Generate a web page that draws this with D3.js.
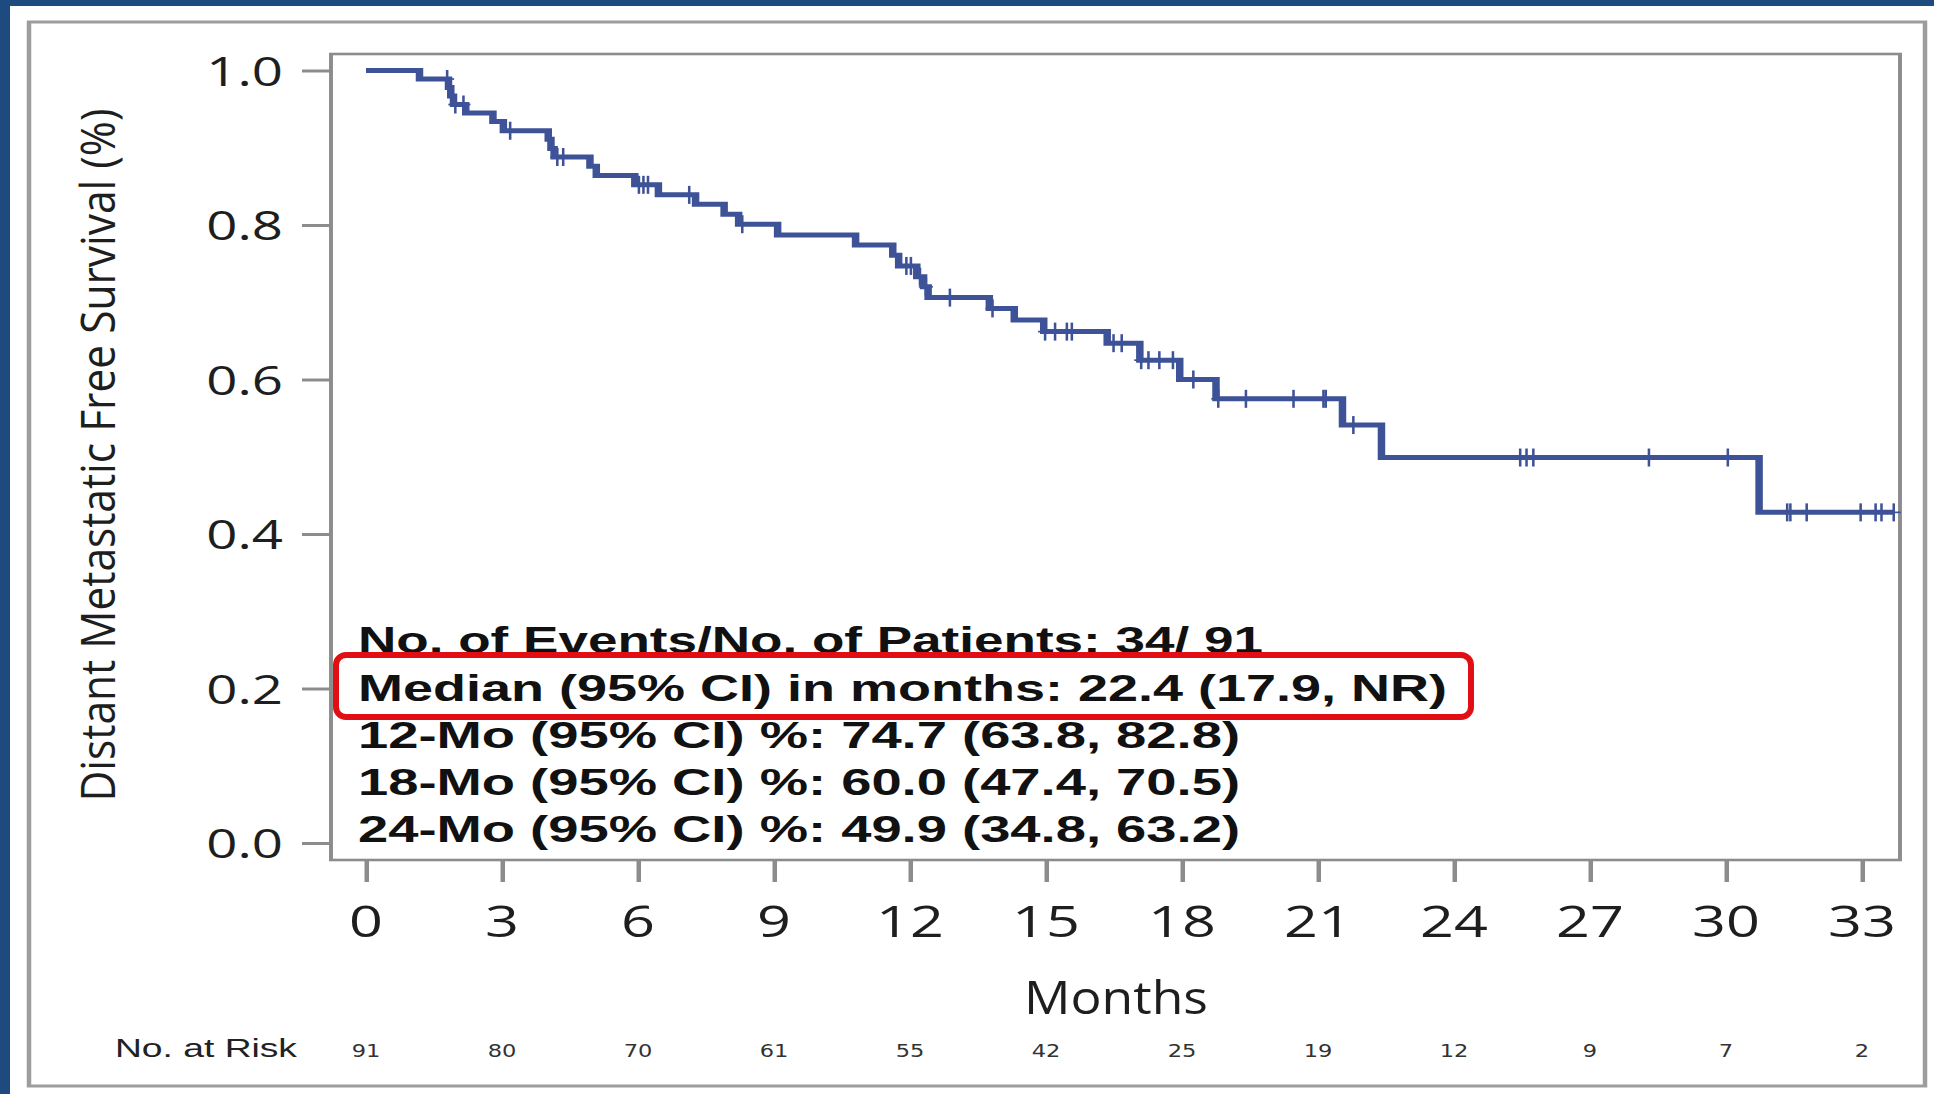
<!DOCTYPE html>
<html>
<head>
<meta charset="utf-8">
<script src="https://cdn.jsdelivr.net/npm/d3@7"></script>
<style>
  html, body { margin: 0; padding: 0; background: #fff; }
  svg { display: block; }
</style>
</head>
<body>
<svg id="chart" width="1934" height="1094"></svg>
<script>
// Kaplan–Meier estimate: distant metastasis-free survival
const eventMonths = [1.18, 1.82, 1.87, 1.93, 2.20, 2.80, 3.03, 4.02, 4.08, 4.15, 4.94, 5.08,
  5.93, 6.45, 7.27, 7.90, 8.22, 9.08, 10.80, 11.62, 11.75, 12.15, 12.30, 12.40, 13.75,
  14.30, 14.95, 16.35, 17.07, 17.95, 18.75, 21.54, 22.40, 30.73];
const survivalAfter = [0.989, 0.978, 0.967, 0.956, 0.945, 0.934, 0.922, 0.911, 0.899, 0.888,
  0.876, 0.864, 0.852, 0.839, 0.827, 0.814, 0.801, 0.787, 0.774, 0.761, 0.747, 0.733, 0.720,
  0.706, 0.692, 0.677, 0.662, 0.647, 0.625, 0.600, 0.575, 0.541, 0.499, 0.428];
const censorMonths = [1.79, 1.97, 2.15, 3.18, 4.22, 4.35, 6.02, 6.12, 6.22, 7.13, 8.30,
  11.92, 12.02, 12.22, 12.35, 12.88, 13.82, 14.98, 15.20, 15.46, 15.57, 16.49, 16.67, 17.10,
  17.26, 17.50, 17.80, 18.25, 18.80, 19.41, 20.46, 21.12, 21.17, 21.78, 25.46, 25.60, 25.75,
  28.30, 30.04, 31.35, 31.42, 31.78, 32.97, 33.30, 33.43, 33.70];
const lastFollowUp = 33.70;

const xTicks = [0, 3, 6, 9, 12, 15, 18, 21, 24, 27, 30, 33];
const yTicks = [0, 0.2, 0.4, 0.6, 0.8, 1.0];
const atRisk = [91, 80, 70, 61, 55, 42, 25, 19, 12, 9, 7, 2];

const statLines = [
  "No. of Events/No. of Patients: 34/ 91",
  "Median (95% CI) in months: 22.4 (17.9, NR)",
  "12-Mo (95% CI) %: 74.7 (63.8, 82.8)",
  "18-Mo (95% CI) %: 60.0 (47.4, 70.5)",
  "24-Mo (95% CI) %: 49.9 (34.8, 63.2)"
];

// ---- layout ----
const SX = 1.5;                 // horizontal stretch of the line-art layer
const curveColor = "#3e5298";
const frameColor = "#8c8c8c";

const svg = d3.select("#chart");
svg.append("rect").attr("width", 1934).attr("height", 1094).attr("fill", "#1d4b80");
svg.append("rect").attr("x", 10).attr("y", 6).attr("width", 1924).attr("height", 1088).attr("fill", "#ffffff");

const x = d3.scaleLinear().domain([0, 33]).range([366 / SX, 1862 / SX]);
const y = d3.scaleLinear().domain([0, 1]).range([843, 70.5]);
const X = v => x(v) * SX;       // screen x for the unstretched text layer

const g = svg.append("g").attr("transform", `scale(${SX},1)`);

// outer panel frame
g.append("rect")
  .attr("x", 29 / SX).attr("y", 22)
  .attr("width", (1925 - 29) / SX).attr("height", 1086 - 22)
  .attr("fill", "none").attr("stroke", "#9d9d9d").attr("stroke-width", 3);

// plot frame
g.append("rect")
  .attr("x", 331 / SX).attr("y", 54)
  .attr("width", (1900 - 331) / SX).attr("height", 860 - 54)
  .attr("fill", "none").attr("stroke", frameColor).attr("stroke-width", 2.6);

// axes (tick marks only; labels drawn in the text layer)
g.append("g")
  .attr("transform", "translate(0,860)")
  .call(d3.axisBottom(x).tickValues(xTicks).tickSize(22).tickSizeOuter(0).tickFormat(""))
  .call(a => a.select(".domain").remove())
  .call(a => a.selectAll("line").attr("stroke", frameColor).attr("stroke-width", 3));

g.append("g")
  .attr("transform", `translate(${331 / SX},0)`)
  .call(d3.axisLeft(y).tickValues(yTicks).tickSize(29 / SX).tickSizeOuter(0).tickFormat(""))
  .call(a => a.select(".domain").remove())
  .call(a => a.selectAll("line").attr("stroke", frameColor).attr("stroke-width", 3));

// survival step curve
const pts = [{ t: 0, s: 1 }]
  .concat(eventMonths.map((t, i) => ({ t, s: survivalAfter[i] })))
  .concat([{ t: lastFollowUp, s: survivalAfter[survivalAfter.length - 1] }]);

const line = d3.line().x(d => x(d.t)).y(d => y(d.s)).curve(d3.curveStepAfter);
g.append("path").datum(pts)
  .attr("d", line)
  .attr("fill", "none")
  .attr("stroke", curveColor)
  .attr("stroke-width", 5)
  .attr("stroke-linejoin", "miter");

// censoring marks
const survAt = t => {
  let s = 1;
  eventMonths.forEach((e, i) => { if (e <= t) s = survivalAfter[i]; });
  return s;
};
const marks = g.append("g").selectAll("g").data(censorMonths).join("g")
  .attr("transform", d => `translate(${x(d)},${y(survAt(d))})`)
  .attr("stroke", curveColor).attr("stroke-width", 1.7);
marks.append("line").attr("x1", 0).attr("x2", 0).attr("y1", -9).attr("y2", 9);
marks.append("line").attr("x1", -7 / SX).attr("x2", 7 / SX).attr("y1", 0).attr("y2", 0);

// ---- text layer ----
function stretch(sel, k) {
  sel.each(function () {
    const w = this.getComputedTextLength();
    d3.select(this).attr("textLength", w * k).attr("lengthAdjust", "spacingAndGlyphs");
  });
}

const t = svg.append("g");

// y tick labels
t.append("g").selectAll("text").data(yTicks).join("text")
  .attr("x", 283).attr("y", d => y(d) + 15)
  .attr("text-anchor", "end")
  .attr("font-family", "'Open Sans', sans-serif").attr("font-size", 41)
  .attr("fill", "#1e1e1e")
  .text(d => d3.format(".1f")(d))
  .call(stretch, 1.33);

// x tick labels
t.append("g").selectAll("text").data(xTicks).join("text")
  .attr("x", d => X(d)).attr("y", 937)
  .attr("text-anchor", "middle")
  .attr("font-family", "'Open Sans', sans-serif").attr("font-size", 43)
  .attr("fill", "#1e1e1e")
  .text(d => d)
  .call(stretch, 1.38);

// axis titles
t.append("text")
  .attr("x", 1116).attr("y", 1014)
  .attr("text-anchor", "middle")
  .attr("font-family", "'Open Sans', sans-serif").attr("font-size", 45)
  .attr("fill", "#1e1e1e")
  .attr("textLength", 184).attr("lengthAdjust", "spacingAndGlyphs")
  .text("Months");

t.append("text")
  .attr("transform", "translate(115,455) rotate(-90)")
  .attr("text-anchor", "middle")
  .attr("font-family", "'Open Sans', sans-serif").attr("font-size", 47)
  .attr("fill", "#1e1e1e")
  .attr("textLength", 693).attr("lengthAdjust", "spacingAndGlyphs")
  .text("Distant Metastatic Free Survival (%)");

// numbers at risk
t.append("text")
  .attr("x", 115).attr("y", 1057)
  .attr("font-family", "'Liberation Sans', Arial, sans-serif").attr("font-size", 25)
  .attr("fill", "#222")
  .attr("textLength", 182).attr("lengthAdjust", "spacingAndGlyphs")
  .text("No. at Risk");

t.append("g").selectAll("text").data(atRisk).join("text")
  .attr("x", (d, i) => X(xTicks[i])).attr("y", 1057)
  .attr("text-anchor", "middle")
  .attr("font-family", "'DejaVu Sans', sans-serif").attr("font-size", 18)
  .attr("fill", "#333")
  .text(d => d)
  .call(stretch, 1.25);

// summary statistics
const statBaselines = [653, 701, 748, 795, 842];
const statWidths = [905, 1089, 882, 882, 882];
t.append("g").selectAll("text").data(statLines).join("text")
  .attr("x", 358).attr("y", (d, i) => statBaselines[i])
  .attr("font-family", "'Liberation Sans', Arial, sans-serif").attr("font-weight", "bold")
  .attr("font-size", 37)
  .attr("fill", "#111")
  .attr("textLength", (d, i) => statWidths[i]).attr("lengthAdjust", "spacingAndGlyphs")
  .text(d => d);

// highlight around the median line
t.append("rect")
  .attr("x", 336).attr("y", 655)
  .attr("width", 1135).attr("height", 62)
  .attr("rx", 10).attr("ry", 10)
  .attr("fill", "none").attr("stroke", "#e10f14").attr("stroke-width", 6);
</script>
</body>
</html>
